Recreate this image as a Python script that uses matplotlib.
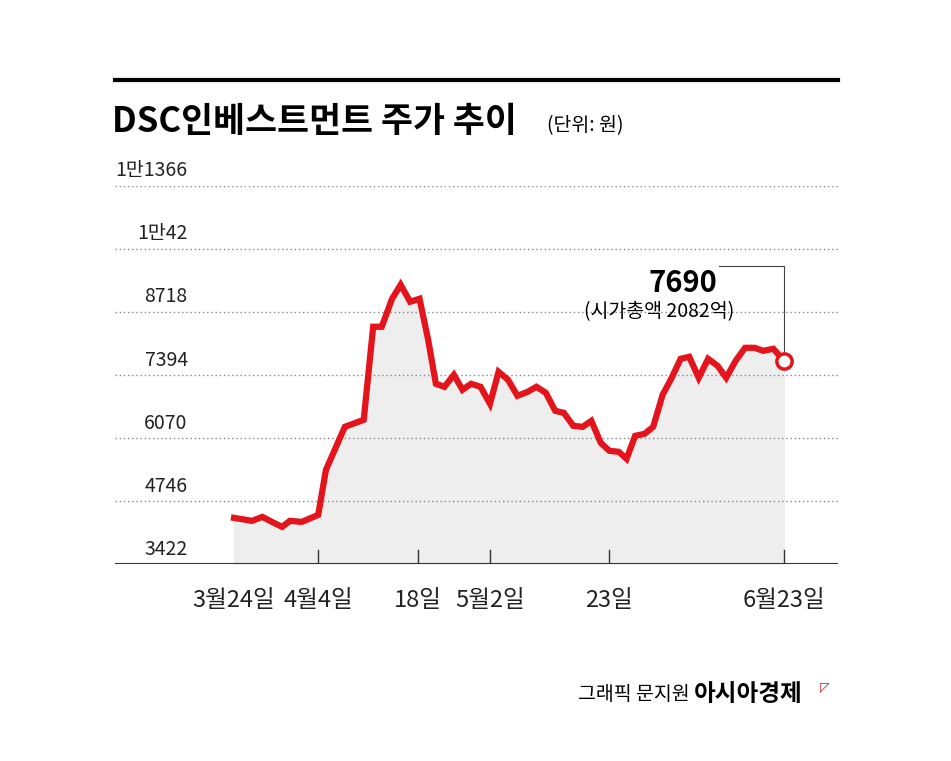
import matplotlib
matplotlib.use("Agg")
import matplotlib.pyplot as plt

plt.rcParams['font.family'] = ['Noto Sans CJK KR', 'DejaVu Sans']

# trading days since 3/24 (approx) and closing price (won)
day = [0, 2.1, 3.3, 4.4, 5.6, 6.5, 7.9, 9.8, 10.7, 12.9, 15.1, 16.2, 17.2, 18.4, 19.4,
       20.5, 21.6, 22.6, 23.5, 24.5, 25.6, 26.6, 27.6, 28.7, 29.8, 30.8, 31.9, 33.0,
       34.2, 35.2, 36.3, 37.4, 38.4, 39.5, 40.6, 41.6, 42.7, 43.7, 44.8, 45.7, 46.7,
       47.8, 48.8, 49.9, 50.9, 52.0, 53.0, 54.1, 55.2, 56.3, 57.3, 58.4, 59.5, 60.6,
       61.6, 62.8, 64]
price = [4389, 4326, 4410, 4305, 4200, 4326, 4305, 4452, 5397, 6301, 6448, 8403, 8403,
         8991, 9285, 8928, 8991, 8130, 7205, 7142, 7394, 7079, 7205, 7142, 6785, 7457,
         7289, 6953, 7037, 7142, 7016, 6637, 6595, 6322, 6301, 6427, 5965, 5797, 5776,
         5629, 6112, 6154, 6301, 6974, 7310, 7730, 7772, 7331, 7730, 7583, 7331, 7688,
         7961, 7961, 7898, 7940, 7690]

yticks = [3422, 4746, 6070, 7394, 8718, 10042, 11366]
ylabels = ['3422', '4746', '6070', '7394', '8718', '1만42', '1만1366']
xticks = [0, 9.8, 21.4, 29.8, 43.7, 64]
xlabels = ['3월24일', '4월4일', '18일', '5월2일', '23일', '6월23일']

red = '#e3141b'
fig = plt.figure(figsize=(9.51, 7.61), dpi=100)
ax = fig.add_axes([0.121, 0.259, 0.760, 0.497])
ax.set_xlim(-13.85, 70.3)
ax.set_ylim(3422, 11366)

for v in yticks[1:]:
    ax.axhline(v, color='#888888', lw=1, ls=(0, (1, 2)), zorder=1)
ax.axhline(3422, color='#333333', lw=1.5, zorder=3)
for t in xticks[1:]:
    ax.plot([t, t], [3422, 3722], color='#333333', lw=1, zorder=3)

ax.fill_between(day, price, 3422, color='#eeeeee', zorder=0)
ax.plot(day, price, color=red, lw=4.5, solid_joinstyle='miter', zorder=4)
ax.plot(day[-1], price[-1], 'o', ms=11, mfc='white', mec=red, mew=2.5, zorder=5)

for v, s in zip(yticks, ylabels):
    ax.text(-5.4, v + 90, s, ha='right', va='bottom', fontsize=14, color='#222222')
for t, s in zip(xticks, xlabels):
    ax.text(t, 2650, s, ha='center', va='center', fontsize=17, color='#222222')

# annotation for the last value
ax.plot([56.5, 64, 64], [9685, 9685, price[-1] + 200], color='#444444', lw=0.8)
ax.text(52.3, 9330, '7690', ha='center', va='center', fontsize=21, fontweight='bold')
ax.text(49.5, 8718, '(시가총액 2082억)', ha='center', va='center', fontsize=14)

ax.axis('off')

fig.add_artist(plt.Line2D([0.121, 0.881], [0.895, 0.895], color='black', lw=3))
fig.text(0.118, 0.84, 'DSC인베스트먼트 주가 추이', fontsize=25, fontweight='bold',
         va='center', ha='left')
fig.text(0.575, 0.835, '(단위: 원)', fontsize=14, va='center', ha='left')
fig.text(0.725, 0.088, '그래픽 문지원', fontsize=14, va='center', ha='right')
fig.text(0.73, 0.088, '아시아경제', fontsize=17, fontweight='bold', va='center', ha='left')
fig.text(0.862, 0.096, '◸', fontsize=9, color=red, va='center', ha='left',
         family=['DejaVu Sans'])

fig.savefig('out.png', dpi=100, facecolor='white')
